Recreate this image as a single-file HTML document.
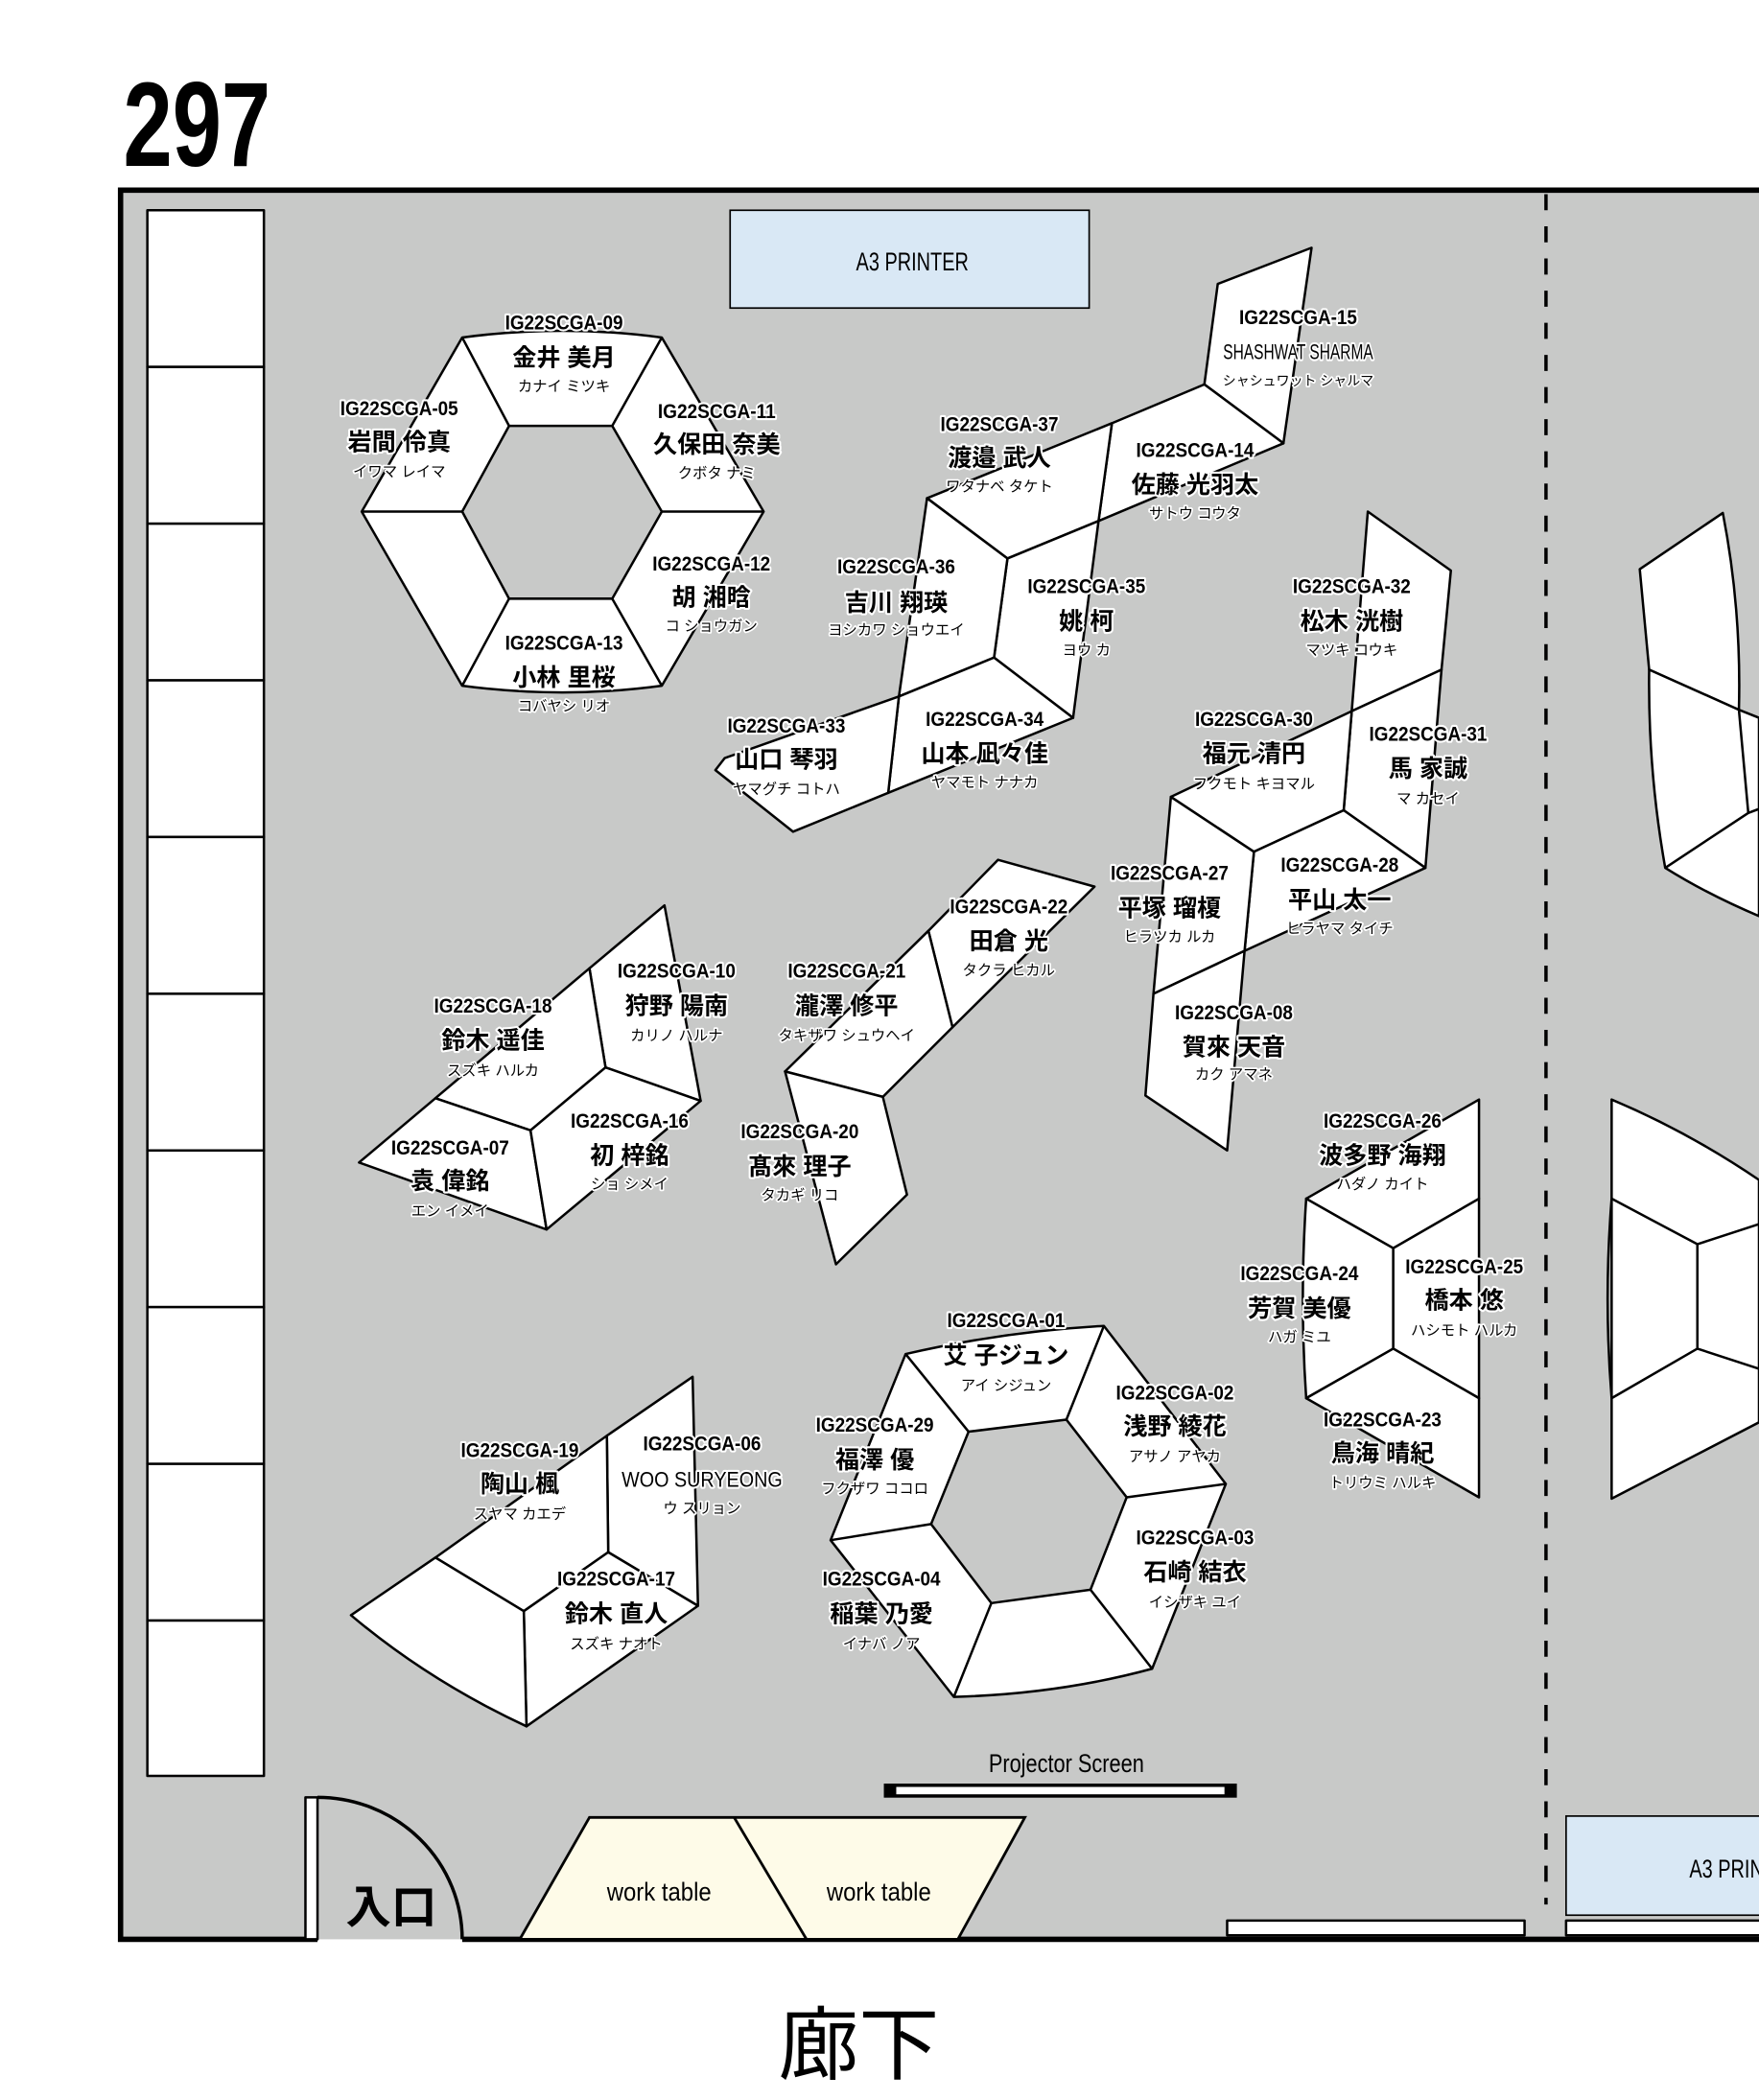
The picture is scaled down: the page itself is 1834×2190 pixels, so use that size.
<!DOCTYPE html>
<html><head><meta charset="utf-8">
<style>
html,body{margin:0;padding:0;background:#fff;width:1834px;height:2190px;overflow:hidden}
svg{display:block}
.s{fill:#fff;stroke:#000;stroke-width:1.8;stroke-linejoin:round}
.l{fill:none;stroke:#000;stroke-width:1.8}
text{font-family:"Liberation Sans","Noto Sans CJK JP",sans-serif;text-anchor:middle;paint-order:stroke;stroke:#fff;stroke-linejoin:round}
.id{font-size:15px;font-weight:bold;stroke-width:3}
.nm{font-size:18px;font-weight:bold;stroke-width:3}
.kn{font-size:11px;stroke-width:2.5}
.en{font-size:16px;stroke-width:3}
.pl{stroke:none}
</style></head><body>
<svg width="1834" height="2190" viewBox="0 0 1313 1568" preserveAspectRatio="none" xmlns="http://www.w3.org/2000/svg">
<rect x="0" y="0" width="1313" height="1568" fill="#fff"/>
<text x="147" y="124" class="pl" style="font-size:90px;font-weight:bold;font-family:'Liberation Sans Narrow','Liberation Sans',sans-serif" textLength="110" lengthAdjust="spacingAndGlyphs">297</text>
<rect x="90" y="142" width="1230" height="1306" fill="#c8c9c8"/>
<path d="M1313,142 H90 V1448 H237 M345,1448 H1313" fill="none" stroke="#000" stroke-width="4"/>
<line x1="1154" y1="145" x2="1154" y2="1422" stroke="#000" stroke-width="2.5" stroke-dasharray="12,12"/>
<g class="s">
<rect x="110" y="157" width="87" height="117"/><rect x="110" y="274" width="87" height="117"/><rect x="110" y="391" width="87" height="117"/><rect x="110" y="508" width="87" height="117"/><rect x="110" y="625" width="87" height="117"/><rect x="110" y="742" width="87" height="117"/><rect x="110" y="859" width="87" height="117"/><rect x="110" y="976" width="87" height="117"/><rect x="110" y="1093" width="87" height="117"/><rect x="110" y="1210" width="87" height="116"/>
</g>
<rect x="545" y="157" width="268" height="73" fill="#d9e8f5" stroke="#000" stroke-width="1.2"/>
<text x="681" y="202" class="pl" style="font-size:19px" textLength="84" lengthAdjust="spacingAndGlyphs">A3 PRINTER</text>
<rect x="1169" y="1356" width="160" height="74" fill="#d9e8f5" stroke="#000" stroke-width="1.2"/>
<text x="1261" y="1402" class="pl" style="font-size:19px;text-anchor:start" textLength="84" lengthAdjust="spacingAndGlyphs">A3 PRINTER</text>
<rect x="916" y="1434" width="222" height="11" class="s"/>
<rect x="1169" y="1434" width="160" height="11" class="s"/>
<rect x="228" y="1342" width="9" height="106" class="s" stroke-width="2"/>
<path d="M237,1342 A108,106 0 0 1 345,1448" fill="none" stroke="#000" stroke-width="2.5"/>
<text x="292" y="1436" class="pl" style="font-size:34px;font-weight:bold">入口</text>
<polygon points="440,1357 765,1357 715,1448 388,1448" fill="#fefbe8" stroke="#000" stroke-width="2"/>
<line x1="548" y1="1357" x2="602" y2="1448" stroke="#000" stroke-width="2"/>
<text x="492" y="1419" class="pl" style="font-size:19px" textLength="78" lengthAdjust="spacingAndGlyphs">work table</text>
<text x="656" y="1419" class="pl" style="font-size:19px" textLength="78" lengthAdjust="spacingAndGlyphs">work table</text>
<rect x="661" y="1333" width="261" height="8" fill="#fff" stroke="#000" stroke-width="2.5"/>
<rect x="661" y="1333" width="8" height="8" fill="#000"/><rect x="914" y="1333" width="8" height="8" fill="#000"/>
<text x="796" y="1323" class="pl" style="font-size:19px" textLength="116" lengthAdjust="spacingAndGlyphs">Projector Screen</text>
<text x="641" y="1548" class="pl" style="font-size:60px">廊下</text>

<path d="M345,252 Q420,242 494,252 L570,382 L494,512 Q420,522 345,512 L270,382 Z" class="s"/>
<polygon points="380,318 457,318 494,382 457,447 380,447 345,382" fill="#c8c9c8" stroke="#000" stroke-width="1.8"/>
<path d="M345,252 L380,318 M494,252 L457,318 M570,382 L494,382 M494,512 L457,447 M345,512 L380,447 M270,382 L345,382" class="l"/>

<g class="s">
<polygon points="909,212 979,185 958,331 899,287"/>
<polygon points="830,316 899,287 958,331 820,389"/>
<polygon points="692,372 830,316 820,389 752,417"/>
<polygon points="752,417 820,389 801,536 742,491"/>
<polygon points="692,372 752,417 742,491 671,520"/>
<polygon points="671,520 742,491 801,536 663,592"/>
<polygon points="541,566 671,520 663,592 592,621 534,575"/>
</g>
<g class="s">
<polygon points="1021,382 1083,426 1076,500 1009,531"/>
<polygon points="1009,531 1076,500 1064,648 1003,605"/>
<polygon points="874,595 1009,531 1003,605 936,636"/>
<polygon points="936,636 1003,605 1064,648 929,710"/>
<polygon points="874,595 936,636 929,710 861,742"/>
<polygon points="861,742 929,710 916,859 855,818"/>
</g>
<g class="s">
<polygon points="745,642 817,662 711,767 693,695"/>
<polygon points="693,695 711,767 659,819 586,800"/>
<polygon points="586,800 659,819 677,892 624,944"/>
</g>
<g class="s">
<polygon points="496,676 523,822 452,797 440,723"/>
<polygon points="440,723 452,797 396,844 325,820"/>
<polygon points="325,820 396,844 408,918 268,868"/>
<polygon points="396,844 452,797 523,822 408,918"/>
</g>
<g class="s">
<polygon points="453,1072 517,1028 521,1199 454,1159"/>
<polygon points="325,1163 453,1072 454,1159 391,1203"/>
<polygon points="391,1203 454,1159 521,1199 393,1289"/>
<path d="M325,1163 L391,1203 L393,1289 Q320,1255 262,1206 Z"/>
</g>
<path d="M676,1011 Q750,994 824,990 L915,1108 L860,1246 Q790,1265 712,1267 L620,1150 Z" class="s"/>
<polygon points="723,1069 796,1060 841,1118 814,1187 740,1197 695,1138" fill="#c8c9c8" stroke="#000" stroke-width="1.8"/>
<path d="M676,1011 L723,1069 M824,990 L796,1060 M915,1108 L841,1118 M860,1246 L814,1187 M712,1267 L740,1197 M620,1150 L695,1138" class="l"/>
<g class="s">
<polygon points="975,895 1104,821 1104,895 1040,932"/>
<path d="M975,895 L1040,932 L1040,1007 L975,1044 Q970,970 975,895 Z"/>
<polygon points="1040,932 1104,895 1104,1044 1040,1007"/>
<polygon points="975,1044 1040,1007 1104,1044 1104,1118"/>
</g>
<g class="s">
<path d="M1224,425 L1286,383 Q1300,455 1298,530 L1231,500 Z"/>
<path d="M1231,500 L1298,530 L1313,536 L1313,684 Q1275,668 1243,648 Q1230,575 1231,500 Z"/>
<path d="M1298,530 L1305,607 L1313,604 L1313,536 Z"/>
<path d="M1203,821 Q1260,845 1313,881 L1313,1062 L1203,1119 Z"/>
</g>
<path d="M1243,648 L1305,607 M1203,895 L1267,929 L1313,914 M1267,929 L1267,1007 L1203,1044 M1267,1007 L1313,1022 M1203,895 Q1197,970 1203,1044" class="l"/>

<g>
<text x="421" y="246" class="id" textLength="88" lengthAdjust="spacingAndGlyphs">IG22SCGA-09</text><text x="421" y="273" class="nm">金井 美月</text><text x="421" y="292" class="kn">カナイ ミツキ</text>
<text x="298" y="310" class="id" textLength="88" lengthAdjust="spacingAndGlyphs">IG22SCGA-05</text><text x="298" y="336" class="nm">岩間 伶真</text><text x="298" y="356" class="kn">イワマ レイマ</text>
<text x="535" y="312" class="id" textLength="88" lengthAdjust="spacingAndGlyphs">IG22SCGA-11</text><text x="535" y="338" class="nm">久保田 奈美</text><text x="535" y="357" class="kn">クボタ ナミ</text>
<text x="531" y="426" class="id" textLength="88" lengthAdjust="spacingAndGlyphs">IG22SCGA-12</text><text x="531" y="452" class="nm">胡 湘晗</text><text x="531" y="471" class="kn">コ ショウガン</text>
<text x="421" y="485" class="id" textLength="88" lengthAdjust="spacingAndGlyphs">IG22SCGA-13</text><text x="421" y="512" class="nm">小林 里桜</text><text x="421" y="531" class="kn">コバヤシ リオ</text>
<text x="746" y="322" class="id" textLength="88" lengthAdjust="spacingAndGlyphs">IG22SCGA-37</text><text x="746" y="348" class="nm">渡邉 武人</text><text x="746" y="367" class="kn">ワタナベ タケト</text>
<text x="892" y="341" class="id" textLength="88" lengthAdjust="spacingAndGlyphs">IG22SCGA-14</text><text x="892" y="368" class="nm">佐藤 光羽太</text><text x="892" y="387" class="kn">サトウ コウタ</text>
<text x="969" y="242" class="id" textLength="88" lengthAdjust="spacingAndGlyphs">IG22SCGA-15</text><text x="969" y="268" class="en" textLength="112" lengthAdjust="spacingAndGlyphs">SHASHWAT SHARMA</text><text x="969" y="288" class="kn" style="font-size:10px">シャシュワット シャルマ</text>
<text x="669" y="428" class="id" textLength="88" lengthAdjust="spacingAndGlyphs">IG22SCGA-36</text><text x="669" y="456" class="nm">吉川 翔瑛</text><text x="669" y="474" class="kn">ヨシカワ ショウエイ</text>
<text x="811" y="443" class="id" textLength="88" lengthAdjust="spacingAndGlyphs">IG22SCGA-35</text><text x="811" y="470" class="nm">姚 柯</text><text x="811" y="489" class="kn">ヨウ カ</text>
<text x="587" y="547" class="id" textLength="88" lengthAdjust="spacingAndGlyphs">IG22SCGA-33</text><text x="587" y="573" class="nm">山口 琴羽</text><text x="587" y="593" class="kn">ヤマグチ コトハ</text>
<text x="735" y="542" class="id" textLength="88" lengthAdjust="spacingAndGlyphs">IG22SCGA-34</text><text x="735" y="569" class="nm">山本 凪々佳</text><text x="735" y="588" class="kn">ヤマモト ナナカ</text>
<text x="1009" y="443" class="id" textLength="88" lengthAdjust="spacingAndGlyphs">IG22SCGA-32</text><text x="1009" y="470" class="nm">松木 洸樹</text><text x="1009" y="489" class="kn">マツキ コウキ</text>
<text x="936" y="542" class="id" textLength="88" lengthAdjust="spacingAndGlyphs">IG22SCGA-30</text><text x="936" y="569" class="nm">福元 清円</text><text x="936" y="589" class="kn">フクモト キヨマル</text>
<text x="1066" y="553" class="id" textLength="88" lengthAdjust="spacingAndGlyphs">IG22SCGA-31</text><text x="1066" y="580" class="nm">馬 家誠</text><text x="1066" y="600" class="kn">マ カセイ</text>
<text x="873" y="657" class="id" textLength="88" lengthAdjust="spacingAndGlyphs">IG22SCGA-27</text><text x="873" y="684" class="nm">平塚 瑠榎</text><text x="873" y="703" class="kn">ヒラツカ ルカ</text>
<text x="1000" y="651" class="id" textLength="88" lengthAdjust="spacingAndGlyphs">IG22SCGA-28</text><text x="1000" y="678" class="nm">平山 太一</text><text x="1000" y="697" class="kn">ヒラヤマ タイチ</text>
<text x="921" y="761" class="id" textLength="88" lengthAdjust="spacingAndGlyphs">IG22SCGA-08</text><text x="921" y="788" class="nm">賀來 天音</text><text x="921" y="806" class="kn">カク アマネ</text>
<text x="753" y="682" class="id" textLength="88" lengthAdjust="spacingAndGlyphs">IG22SCGA-22</text><text x="753" y="709" class="nm">田倉 光</text><text x="753" y="728" class="kn">タクラ ヒカル</text>
<text x="632" y="730" class="id" textLength="88" lengthAdjust="spacingAndGlyphs">IG22SCGA-21</text><text x="632" y="757" class="nm">瀧澤 修平</text><text x="632" y="777" class="kn">タキザワ シュウヘイ</text>
<text x="505" y="730" class="id" textLength="88" lengthAdjust="spacingAndGlyphs">IG22SCGA-10</text><text x="505" y="757" class="nm">狩野 陽南</text><text x="505" y="777" class="kn">カリノ ハルナ</text>
<text x="368" y="756" class="id" textLength="88" lengthAdjust="spacingAndGlyphs">IG22SCGA-18</text><text x="368" y="783" class="nm">鈴木 遥佳</text><text x="368" y="803" class="kn">スズキ ハルカ</text>
<text x="470" y="842" class="id" textLength="88" lengthAdjust="spacingAndGlyphs">IG22SCGA-16</text><text x="470" y="869" class="nm">初 梓銘</text><text x="470" y="888" class="kn">ショ シメイ</text>
<text x="336" y="862" class="id" textLength="88" lengthAdjust="spacingAndGlyphs">IG22SCGA-07</text><text x="336" y="888" class="nm">袁 偉銘</text><text x="336" y="908" class="kn">エン イメイ</text>
<text x="597" y="850" class="id" textLength="88" lengthAdjust="spacingAndGlyphs">IG22SCGA-20</text><text x="597" y="877" class="nm">髙來 理子</text><text x="597" y="896" class="kn">タカギ リコ</text>
<text x="1032" y="842" class="id" textLength="88" lengthAdjust="spacingAndGlyphs">IG22SCGA-26</text><text x="1032" y="869" class="nm">波多野 海翔</text><text x="1032" y="888" class="kn">ハダノ カイト</text>
<text x="970" y="956" class="id" textLength="88" lengthAdjust="spacingAndGlyphs">IG22SCGA-24</text><text x="970" y="983" class="nm">芳賀 美優</text><text x="970" y="1002" class="kn">ハガ ミユ</text>
<text x="1093" y="951" class="id" textLength="88" lengthAdjust="spacingAndGlyphs">IG22SCGA-25</text><text x="1093" y="977" class="nm">橋本 悠</text><text x="1093" y="997" class="kn">ハシモト ハルカ</text>
<text x="1032" y="1065" class="id" textLength="88" lengthAdjust="spacingAndGlyphs">IG22SCGA-23</text><text x="1032" y="1091" class="nm">鳥海 晴紀</text><text x="1032" y="1111" class="kn">トリウミ ハルキ</text>
<text x="751" y="991" class="id" textLength="88" lengthAdjust="spacingAndGlyphs">IG22SCGA-01</text><text x="751" y="1018" class="nm">艾 子ジュン</text><text x="751" y="1038" class="kn">アイ シジュン</text>
<text x="877" y="1045" class="id" textLength="88" lengthAdjust="spacingAndGlyphs">IG22SCGA-02</text><text x="877" y="1071" class="nm">浅野 綾花</text><text x="877" y="1091" class="kn">アサノ アヤカ</text>
<text x="653" y="1069" class="id" textLength="88" lengthAdjust="spacingAndGlyphs">IG22SCGA-29</text><text x="653" y="1096" class="nm">福澤 優</text><text x="653" y="1115" class="kn">フクザワ ココロ</text>
<text x="892" y="1153" class="id" textLength="88" lengthAdjust="spacingAndGlyphs">IG22SCGA-03</text><text x="892" y="1180" class="nm">石崎 結衣</text><text x="892" y="1200" class="kn">イシザキ ユイ</text>
<text x="658" y="1184" class="id" textLength="88" lengthAdjust="spacingAndGlyphs">IG22SCGA-04</text><text x="658" y="1211" class="nm">稲葉 乃愛</text><text x="658" y="1231" class="kn">イナバ ノア</text>
<text x="388" y="1088" class="id" textLength="88" lengthAdjust="spacingAndGlyphs">IG22SCGA-19</text><text x="388" y="1114" class="nm">陶山 楓</text><text x="388" y="1134" class="kn">スヤマ カエデ</text>
<text x="524" y="1083" class="id" textLength="88" lengthAdjust="spacingAndGlyphs">IG22SCGA-06</text><text x="524" y="1110" class="en" textLength="120" lengthAdjust="spacingAndGlyphs">WOO SURYEONG</text><text x="524" y="1130" class="kn">ウ スリョン</text>
<text x="460" y="1184" class="id" textLength="88" lengthAdjust="spacingAndGlyphs">IG22SCGA-17</text><text x="460" y="1211" class="nm">鈴木 直人</text><text x="460" y="1231" class="kn">スズキ ナオト</text>
</g>
</svg>
</body></html>
